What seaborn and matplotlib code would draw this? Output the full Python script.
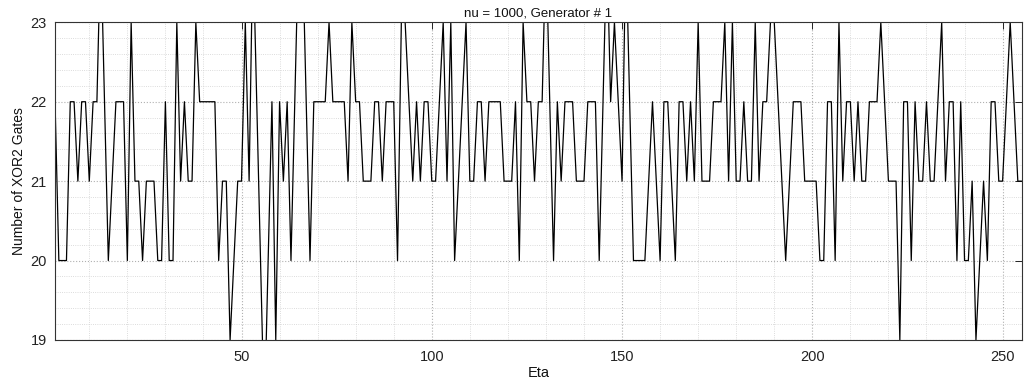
import numpy as np
import pandas as pd
import matplotlib
matplotlib.use("Agg")
import matplotlib.pyplot as plt
import seaborn as sns
from matplotlib.ticker import MultipleLocator

eta = list(range(1, 256))
gates = [
    22, 20, 20, 20, 22, 22, 21, 22, 22, 21, 22, 22, 24, 22, 20, 21, 22, 22, 22, 20,
    23, 21, 21, 20, 21, 21, 21, 20, 20, 22, 20, 20, 23, 21, 22, 21, 21, 23, 22, 22,
    22, 22, 22, 20, 21, 21, 19, 20, 21, 21, 23, 21, 24, 22, 20, 18, 20, 22, 19, 22,
    21, 22, 20, 22, 24, 24, 22, 20, 22, 22, 22, 22, 23, 22, 22, 22, 22, 21, 23, 22,
    22, 21, 21, 21, 22, 22, 21, 22, 22, 22, 20, 23, 23, 22, 21, 22, 21, 22, 22, 21,
    21, 22, 23, 21, 23, 20, 21, 22, 23, 21, 21, 22, 22, 21, 22, 22, 22, 22, 21, 21,
    21, 22, 20, 23, 22, 22, 21, 22, 22, 24, 22, 20, 22, 21, 22, 22, 22, 21, 21, 21,
    22, 22, 22, 20, 22, 24, 22, 23, 22, 21, 24, 22, 20, 20, 20, 20, 21, 22, 21, 20,
    22, 22, 21, 20, 22, 22, 21, 22, 21, 23, 21, 21, 21, 22, 22, 22, 23, 21, 23, 21,
    21, 22, 21, 21, 23, 21, 22, 22, 23, 23, 22, 21, 20, 21, 22, 22, 22, 21, 21, 21,
    21, 20, 20, 22, 22, 20, 23, 21, 22, 22, 21, 22, 21, 21, 22, 22, 22, 23, 22, 21,
    21, 21, 19, 22, 22, 20, 22, 21, 21, 22, 21, 21, 22, 23, 21, 22, 22, 20, 22, 20,
    20, 21, 19, 20, 21, 20, 22, 22, 21, 21, 22, 23, 22, 21, 21,
]
x_ticks = [50, 100, 150, 200, 250]
y_ticks = [19, 20, 21, 22, 23]
title = "nu = 1000, Generator # 1"
x_label = "Eta"
y_label = "Number of XOR2 Gates"

df = pd.DataFrame({"Eta": eta, "Gates": gates})

sns.set_theme(style="white")
plt.rcParams["font.family"] = ["Liberation Sans", "DejaVu Sans"]

fig = plt.figure(figsize=(10.25, 3.85), dpi=100)
ax = fig.add_axes([0.0537, 0.117, 0.943, 0.825])

sns.lineplot(data=df, x="Eta", y="Gates", ax=ax, color="black", linewidth=0.9)

ax.set_xlim(1, 255)
ax.set_ylim(19, 23)
ax.set_xticks(x_ticks)
ax.set_yticks(y_ticks)
ax.xaxis.set_minor_locator(MultipleLocator(10))
ax.yaxis.set_minor_locator(MultipleLocator(0.2))

ax.grid(which="major", color="#b0b0b0", linestyle=":", linewidth=0.8)
ax.grid(which="minor", color="#d0d0d0", linestyle=":", linewidth=0.6)

for s in ax.spines.values():
    s.set_visible(True)
    s.set_color("#333333")
    s.set_linewidth(0.8)

ax.tick_params(axis="both", which="major", direction="in", length=5, width=0.7,
               top=True, right=True, labelsize=10.5, colors="#222222")
ax.tick_params(axis="x", which="major", pad=7)
ax.tick_params(axis="y", which="major", pad=6)
ax.tick_params(axis="both", which="minor", length=0, top=False, right=False)

ax.set_title(title, fontsize=9.5, pad=4, color="#111111")
ax.set_xlabel(x_label, fontsize=10.5, labelpad=2, color="#111111")
ax.set_ylabel(y_label, fontsize=10, labelpad=3, color="#111111")

fig.savefig("out.png", dpi=100, facecolor="white")
